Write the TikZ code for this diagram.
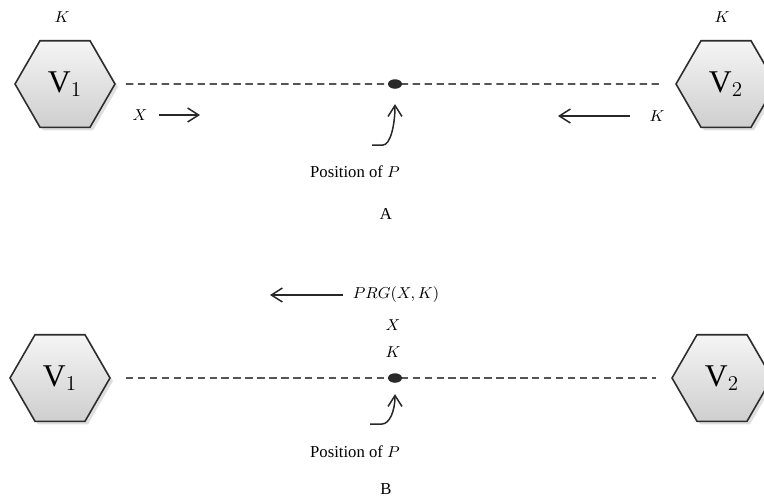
\documentclass[tikz,border=0pt]{standalone}
\usepackage{fontspec}
\setmainfont{Liberation Serif}
\usetikzlibrary{arrows.meta,positioning,shapes.geometric,shadows}
\definecolor{hexedge}{RGB}{45,45,45}
\definecolor{dashgray}{RGB}{85,85,85}
\definecolor{arrowgray}{RGB}{40,40,40}

\begin{document}
\begin{tikzpicture}[
  x=0.02cm,y=-0.02cm,
  vertex/.style={regular polygon,regular polygon sides=6,minimum size=2.0cm,inner sep=0pt,draw=hexedge,line width=0.9pt,top color=gray!8,bottom color=gray!38,drop shadow={opacity=0.25,shadow xshift=0.6mm,shadow yshift=-0.6mm},font=\fontsize{18}{18}\selectfont},
  keylbl/.style={font=\fontsize{9}{10}\selectfont,inner sep=1pt},
  lbl/.style={font=\fontsize{9.5}{11}\selectfont,inner sep=1pt},
  spot/.style={ellipse,fill=arrowgray,minimum width=0.28cm,minimum height=0.19cm,inner sep=0pt},
  link/.style={dash pattern=on 4.2pt off 2.6pt,line width=1pt,draw=dashgray},
  line/.style={-{Straight Barb[length=2.2mm,width=2.8mm]},line width=0.85pt,draw=arrowgray}
]
  \useasboundingbox (0,0) rectangle (764,498);

  % part A
  \node[vertex] (v1a) at (65,84) {$\mathrm{V}_1$};
  \node[vertex] (v2a) at (726,84) {$\mathrm{V}_2$};
  \node[keylbl] (k1a) at (62,17) {$K$};
  \node[keylbl] (k2a) at (722,17) {$K$};
  \draw[link,shorten <=0.2cm,shorten >=0.3cm] (v1a) -- (v2a);
  \node[spot] (pa) at (395,84) {};
  \node[keylbl] (xa) at (140,115) {$X$};
  \coordinate (xend) at (200,115);
  \node[keylbl] (ka) at (657,116) {$K$};
  \coordinate (kend) at (558,116);
  \node[lbl] (posa) at (355,172) {Position of $P$};
  \node[lbl] (capa) at (386,214) {A};
  \coordinate (taila) at (372,145);

  \draw[line,shorten <=0.2cm] (xa) -- (xend);
  \draw[line,shorten <=0.35cm] (ka) -- (kend);
  \draw[line] (taila) -- ++(11,0) .. controls +(7,0) and +(0,22) .. ([yshift=-0.3cm]pa.south);

  % part B
  \node[vertex] (v1b) at (60,378) {$\mathrm{V}_1$};
  \node[vertex] (v2b) at (722,378) {$\mathrm{V}_2$};
  \draw[link,shorten <=0.3cm,shorten >=0.3cm] (v1b) -- (v2b);
  \node[spot] (pb) at (395,378) {};
  \node[keylbl] (prg) at (396,295) {$PRG(X,K)$};
  \coordinate (prgend) at (270,295);
  \node[keylbl] (xb) at (393,325) {$X$};
  \node[keylbl] (kb) at (393,352) {$K$};
  \node[lbl] (posb) at (355,452) {Position of $P$};
  \node[lbl] (capb) at (386,489) {B};
  \coordinate (tailb) at (370,424);

  \draw[line,shorten <=0.15cm] (prg) -- (prgend);
  \draw[line] (tailb) -- ++(12,0) .. controls +(7,0) and +(0,18) .. ([yshift=-0.22cm]pb.south);
\end{tikzpicture}
\end{document}
